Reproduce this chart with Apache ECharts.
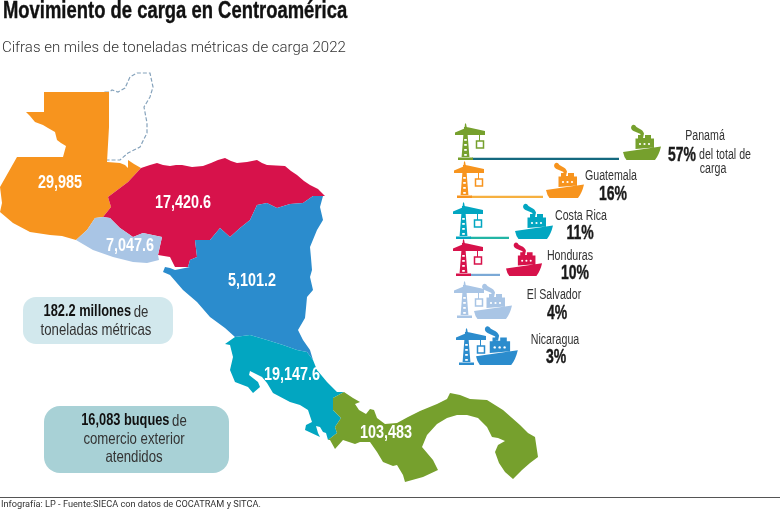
<!DOCTYPE html>
<html>
<head>
<meta charset="utf-8">
<script src="https://cdn.jsdelivr.net/npm/echarts@6/dist/echarts.min.js"></script>
<style>
  html, body { margin: 0; padding: 0; background: #fff; }
  #main { width: 780px; height: 523px; }
</style>
</head>
<body>
<div id="main"></div>
<script>
// tonnage per country, as printed on the map
const mapCountries = ["Guatemala", "Honduras", "El Salvador", "Nicaragua", "Costa Rica", "Panamá"]
const mapTons = [29985, 17420.6, 7047.6, 5101.2, 19147.6, 103483]
const mapColors = ["#f7941e", "#d7124b", "#a9c5e5", "#2b8ccd", "#02a6c1", "#76a02d"]

// share of total cargo, as printed next to the ships
const shareCountries = ["Panamá", "Guatemala", "Costa Rica", "Honduras", "El Salvador", "Nicaragua"]
const sharePct = [57, 16, 11, 10, 4, 3]
const connectorLen = [147, 72, 39, 30, 0, 0]
const shareColors = ["#76a02d", "#f7941e", "#02a6c1", "#d7124b", "#a9c5e5", "#2b8ccd"]
const connectorColors = ["#14697f", "#f6b040", "#22b5a5", "#7ba9d6", "#a9c5e5", "#2b8ccd"]

// layout of the rows, in page pixels
const rowBase = [160, 198, 239, 276, 318, 365]
const craneX = [458, 457, 456, 456, 457, 459]
const shipX = [623, 546, 515, 506, 474, 476]
const shipScale = [1, 1, 1, 0.95, 1, 1.1]
const nameAt = [[705, 136], [611, 176], [581, 216], [570, 256], [554, 295], [555, 340]]
const pctAt = [[682, 155], [613, 194], [580, 233], [575, 273], [557, 313], [556, 357]]

// outlines, [x, y] with y going down
const outlines = {
  "Belice": [[105,92],[109,92],[112,90],[118,92],[125,88],[130,77],[137,73],[150,73],[153,87],[150,97],[144,107],[147,123],[147,133],[140,147],[128,153],[120,160],[105,160]],
  "Guatemala": [[44,92],[109,92],[109,127],[107,162],[120,163],[125,165],[128,168],[128,160],[134,164],[141,168],[128,182],[108,197],[111,207],[103,217],[95,218],[87,230],[76,240],[62,236],[50,235],[30,232],[13,223],[0,212],[2,203],[1,195],[0,187],[17,157],[63,157],[66,146],[61,143],[57,140],[55,132],[48,128],[43,125],[35,122],[30,116],[26,112],[44,112]],
  "Honduras": [[141,168],[150,165],[157,163],[163,165],[170,166],[176,165],[182,165],[192,167],[203,166],[211,163],[218,160],[225,158],[231,161],[237,163],[247,162],[257,160],[262,163],[267,165],[285,166],[291,171],[297,175],[304,181],[310,185],[318,189],[325,196],[313,196],[303,203],[290,204],[277,208],[267,203],[257,205],[250,220],[240,228],[230,237],[220,228],[210,240],[195,240],[197,257],[190,260],[188,267],[175,267],[170,257],[158,255],[162,237],[143,233],[133,237],[120,228],[110,218],[103,217],[111,207],[108,197],[128,182]],
  "El Salvador": [[103,217],[110,218],[120,228],[133,237],[143,233],[162,237],[158,255],[159,260],[147,263],[133,262],[113,257],[93,250],[76,240],[87,230],[95,218]],
  "Nicaragua": [[323,196],[320,207],[323,220],[317,230],[310,247],[311,258],[312,270],[310,277],[313,290],[307,297],[306,308],[305,318],[298,330],[303,340],[310,350],[313,360],[307,352],[297,350],[283,345],[267,340],[250,335],[235,337],[225,328],[210,317],[197,302],[183,290],[170,275],[163,272],[165,267],[170,268],[175,270],[190,267],[188,267],[190,260],[197,257],[195,240],[210,240],[220,228],[230,237],[240,228],[250,220],[257,205],[267,203],[277,208],[290,204],[303,203],[313,196]],
  "Costa Rica": [[235,337],[250,335],[267,340],[283,345],[297,350],[307,352],[313,360],[317,370],[327,382],[337,392],[344,392],[333,398],[333,410],[341,418],[335,427],[337,433],[328,440],[326,433],[323,432],[320,427],[316,426],[318,433],[320,437],[305,430],[306,425],[312,422],[308,410],[300,405],[290,402],[273,393],[267,383],[262,377],[250,371],[249,375],[258,382],[260,387],[253,393],[248,387],[235,382],[230,370],[233,357],[230,345],[225,344]],
  "Panamá": [[344,392],[353,398],[360,402],[355,404],[359,410],[366,414],[370,409],[374,410],[377,418],[385,424],[397,423],[408,417],[420,411],[437,404],[443,401],[447,399],[450,393],[460,395],[470,399],[487,400],[503,410],[520,425],[528,433],[535,437],[538,457],[530,463],[522,470],[513,479],[505,472],[499,463],[495,452],[498,445],[505,441],[498,438],[492,437],[487,427],[478,418],[467,415],[457,415],[447,418],[437,424],[427,435],[422,447],[433,460],[438,470],[423,477],[405,482],[403,475],[397,465],[393,466],[383,462],[377,452],[370,442],[360,442],[355,444],[343,440],[335,449],[330,440],[328,440],[337,433],[335,427],[341,418],[333,410],[333,398]]
}
const canalHole = [[440,411],[447,405],[455,415],[449,413]]
const labelPoints = [[60, 183], [183, 203], [130, 246], [252, 281], [292, 375], [386, 433]]

const flip = ring => ring.map(p => [p[0], -p[1]])

const features = Object.keys(outlines).map(name => ({
  type: "Feature",
  properties: { name: name },
  geometry: {
    type: "Polygon",
    coordinates: name == "Panamá" ? [flip(outlines[name]), flip(canalHole)] : [flip(outlines[name])]
  }
}))
echarts.registerMap("centroamerica", { type: "FeatureCollection", features: features })

// no narrow face is installed, so the text is squeezed with scaleX
const sans = "'Liberation Sans', sans-serif"
const plain = "Roboto, 'Liberation Sans', sans-serif"

const narrowText = (text, x, y, font, fill, scale, heavy) => ({
  type: "text",
  x: x, y: y,
  scaleX: scale,
  style: {
    text: text, align: "center", verticalAlign: "middle", fill: fill, font: font,
    stroke: heavy ? fill : null, lineWidth: heavy ? 0.4 : 0
  }
})

// crane icon, origin at the left end of its base
const craneEl = (x, y, color) => {
  const children = [
    { type: "path", shape: { pathData: "M0 0H15V-2.5H0ZM3.5 -2L6 -33H9L11.5 -2ZM-3 -25V-27.5L6.5 -31.5L7 -36.5H8L8.7 -33L27 -29V-25Z" }, style: { fill: color } },
    { type: "rect", shape: { x: 21, y: -26, width: 1, height: 7 }, style: { fill: color } },
    { type: "rect", shape: { x: 18.5, y: -19, width: 7, height: 7 }, style: { fill: "#fff", stroke: color, lineWidth: 1.5 } }
  ]
  ;[-6, -11, -16, -21].forEach(r => children.push({
    type: "rect", shape: { x: 6.2, y: r, width: 2.6, height: 1.8 }, style: { fill: "#fff" }
  }))
  return { type: "group", x: x, y: y, children: children }
}

// ship icon, origin at the bottom left of the hull
const shipEl = (x, y, scale, color) => {
  const children = [
    { type: "path", shape: { pathData: "M0 -8L38 -13.5Q36 -5 32 0H3.5Q1 -3 0 -8ZM12.5 -11V-21.5H15V-25H18V-22H22V-25H28V-21.5H31V-12.5Z" }, style: { fill: color } },
    { type: "path", shape: { pathData: "M8.5 -34Q11 -37 13.5 -33L16 -31.5Q20 -30 21 -26.5L20 -22H17L17.5 -26Q13 -28 10.5 -29Q7 -31 8.5 -34Z" }, style: { fill: color } }
  ]
  ;[17, 21.5, 26].forEach(w => children.push({
    type: "circle", shape: { cx: w, cy: -16, r: 1.1 }, style: { fill: "#fff" }
  }))
  return { type: "group", x: x, y: y, scaleX: scale, scaleY: scale, children: children }
}

const rowItem = (params, api) => {
  const i = api.value(0)
  const base = api.coord([craneX[i], rowBase[i]])
  const ship = api.coord([shipX[i], rowBase[i] + (i == 4 ? 1 : 0)])
  const lineEnd = api.coord([craneX[i] + 14 + connectorLen[i], rowBase[i]])
  const name = api.coord(nameAt[i])
  const pct = api.coord(pctAt[i])
  const children = []
  if (connectorLen[i] > 0) {
    children.push({
      type: "rect",
      shape: { x: base[0] + 14, y: base[1] - 2.2, width: lineEnd[0] - base[0] - 14, height: 2.2 },
      style: { fill: connectorColors[i] }
    })
  }
  children.push(craneEl(base[0], base[1], shareColors[i]))
  children.push(shipEl(ship[0], ship[1], shipScale[i], shareColors[i]))
  children.push(narrowText(shareCountries[i], name[0], name[1], "14px " + sans, "#333", 0.76))
  children.push(narrowText(sharePct[i] + "%", pct[0], pct[1], "bold 20px " + sans, "#1a1a1a", 0.7, true))
  if (i == 0) {
    children.push(narrowText("del total de", 725, 155, "14px " + sans, "#333", 0.76))
    children.push(narrowText("carga", 713, 169, "14px " + sans, "#333", 0.76))
  }
  return { type: "group", children: children }
}

const tonsItem = (params, api) => {
  const i = api.value(0)
  const at = api.coord(labelPoints[i])
  return narrowText(mapTons[i].toLocaleString("en-US"), at[0], at[1], "bold 18px " + sans, "#fff", 0.8)
}

const boxRich = {
  b: { font: "bold 16px " + sans, fill: "#111", lineHeight: 18 },
  n: { font: "16.5px " + sans, fill: "#333", lineHeight: 18 }
}

const option = {
  animation: false,
  backgroundColor: "#fff",
  grid: { left: 0, right: 0, top: 0, bottom: 0 },
  xAxis: { type: "value", min: 0, max: 780, show: false },
  yAxis: { type: "value", min: 0, max: 523, inverse: true, show: false },
  graphic: [
    { type: "text", x: 3, y: 11, scaleX: 0.768,
      style: { text: "Movimiento de carga en Centroamérica", verticalAlign: "middle", fill: "#111", font: "bold 24px " + sans, stroke: "#111", lineWidth: 0.4 } },
    { type: "text", x: 2, y: 48,
      style: { text: "Cifras en miles de toneladas métricas de carga 2022", verticalAlign: "middle", fill: "#333", font: "300 15px " + plain } },
    { type: "text", x: 1, y: 505,
      style: { text: "Infografía: LP - Fuente:SIECA con datos de COCATRAM y SITCA.", verticalAlign: "middle", fill: "#333", font: "9.2px " + plain } },
    { type: "rect", left: 0, top: 497, shape: { width: 780, height: 1 }, style: { fill: "#555" } },
    { type: "rect", left: 23, top: 297, shape: { width: 150, height: 47, r: 13 }, style: { fill: "#d2e8ed" } },
    { type: "rect", left: 44, top: 406, shape: { width: 185, height: 67, r: 16 }, style: { fill: "#a8d1d6" } },
    { type: "text", x: 96, y: 321, scaleX: 0.8,
      style: { text: "{b|182.2 millones} {n|de}\n{n|toneladas métricas}", align: "center", verticalAlign: "middle", rich: boxRich } },
    { type: "text", x: 134, y: 439, scaleX: 0.8,
      style: { text: "{b|16,083 buques} {n|de}\n{n|comercio exterior}\n{n|atendidos}", align: "center", verticalAlign: "middle", rich: boxRich } }
  ],
  series: [
    {
      type: "map",
      map: "centroamerica",
      left: 0, top: 0, width: 780, height: 523,
      boundingCoords: [[0, 0], [780, -523]],
      aspectScale: 1,
      roam: false,
      silent: true,
      label: { show: false },
      itemStyle: { borderWidth: 0 },
      emphasis: { disabled: true },
      data: [
        { name: "Belice", value: 0,
          itemStyle: { areaColor: "#fff", borderColor: "#86a3bc", borderWidth: 1.2, borderType: [4, 2] } }
      ].concat(mapCountries.map((name, i) => ({
        name: name, value: mapTons[i], itemStyle: { areaColor: mapColors[i] }
      })))
    },
    {
      type: "custom",
      coordinateSystem: "cartesian2d",
      silent: true,
      renderItem: tonsItem,
      data: mapCountries.map((c, i) => [i])
    },
    {
      type: "custom",
      coordinateSystem: "cartesian2d",
      silent: true,
      renderItem: rowItem,
      data: shareCountries.map((c, i) => [i])
    }
  ]
}

const myChart = echarts.init(document.getElementById("main"))
myChart.setOption(option)
</script>
</body>
</html>
